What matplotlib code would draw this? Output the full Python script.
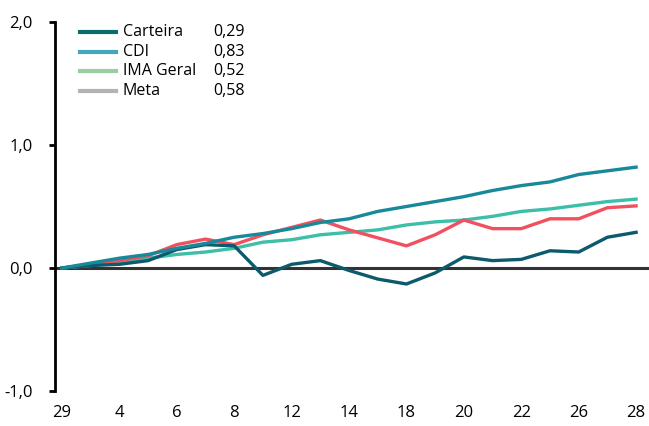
import matplotlib.pyplot as plt
from matplotlib.lines import Line2D

plt.rcParams['font.family'] = ['Open Sans', 'DejaVu Sans']

# business days of the month, starting with the last day of the previous month
x_labels = ['29', '1', '4', '5', '6', '7', '8', '11', '12', '13', '14', '15',
            '18', '19', '20', '21', '22', '25', '26', '27', '28']

carteira = [0, 0.02, 0.03, 0.06, 0.15, 0.19, 0.18, -0.06, 0.03, 0.06, -0.02,
            -0.09, -0.13, -0.04, 0.09, 0.06, 0.07, 0.14, 0.13, 0.25, 0.29]
cdi = [0, 0.04, 0.08, 0.11, 0.16, 0.20, 0.25, 0.28, 0.32, 0.37, 0.40,
       0.46, 0.50, 0.54, 0.58, 0.63, 0.67, 0.70, 0.76, 0.79, 0.82]
ima_geral = [0, 0.02, 0.05, 0.08, 0.11, 0.13, 0.16, 0.21, 0.23, 0.27, 0.29,
             0.31, 0.35, 0.375, 0.39, 0.42, 0.46, 0.48, 0.51, 0.54, 0.56]
meta = [0, 0.03, 0.06, 0.10, 0.19, 0.235, 0.19, 0.27, 0.33, 0.39, 0.31,
        0.245, 0.18, 0.27, 0.39, 0.32, 0.32, 0.40, 0.40, 0.49, 0.505]

legend_names = ['Carteira', 'CDI', 'IMA Geral', 'Meta']
legend_values = ['0,29', '0,83', '0,52', '0,58']
legend_colors = ['#0a6e69', '#43a8ba', '#9acd9f', '#b3b3b6']

y_ticks = [-1, 0, 1, 2]
y_tick_labels = ['-1,0', '0,0', '1,0', '2,0']

fig = plt.figure(figsize=(6.49, 4.26), dpi=100)
ax = fig.add_axes([55 / 649, 35 / 426, 594 / 649, 369 / 426])

x = list(range(len(x_labels)))
ax.axhline(0, color='#333333', lw=2.2, zorder=1)
ax.plot(x, ima_geral, color='#3cbea9', lw=2.4, zorder=2)
ax.plot(x, meta, color='#f0505f', lw=2.4, zorder=3)
ax.plot(x, carteira, color='#0c5a6c', lw=2.4, zorder=4)
ax.plot(x, cdi, color='#17899a', lw=2.4, zorder=5)

ax.set_xlim(-0.244, 20.45)
ax.set_ylim(-1, 2)
ax.set_xticks(x[::2])
ax.set_xticklabels(x_labels[::2], fontsize=12)
ax.set_yticks(y_ticks)
ax.set_yticklabels(y_tick_labels, fontsize=12)
ax.tick_params(axis='x', length=0, pad=10)
ax.tick_params(axis='y', length=4, width=2, pad=12)

for s in ['top', 'right', 'bottom']:
    ax.spines[s].set_visible(False)
ax.spines['left'].set_linewidth(2)

# hand-made legend
for i, (name, val, col) in enumerate(zip(legend_names, legend_values, legend_colors)):
    y = 1 - (32 + i * 19.7) / 426
    fig.add_artist(Line2D([80 / 649, 116 / 649], [y, y], color=col, lw=3,
                          transform=fig.transFigure))
    fig.text(123 / 649, y, name, fontsize=11.5, va='center', ha='left')
    fig.text(213 / 649, y, val, fontsize=11.5, va='center', ha='left')

fig.savefig('out.png', dpi=100)
